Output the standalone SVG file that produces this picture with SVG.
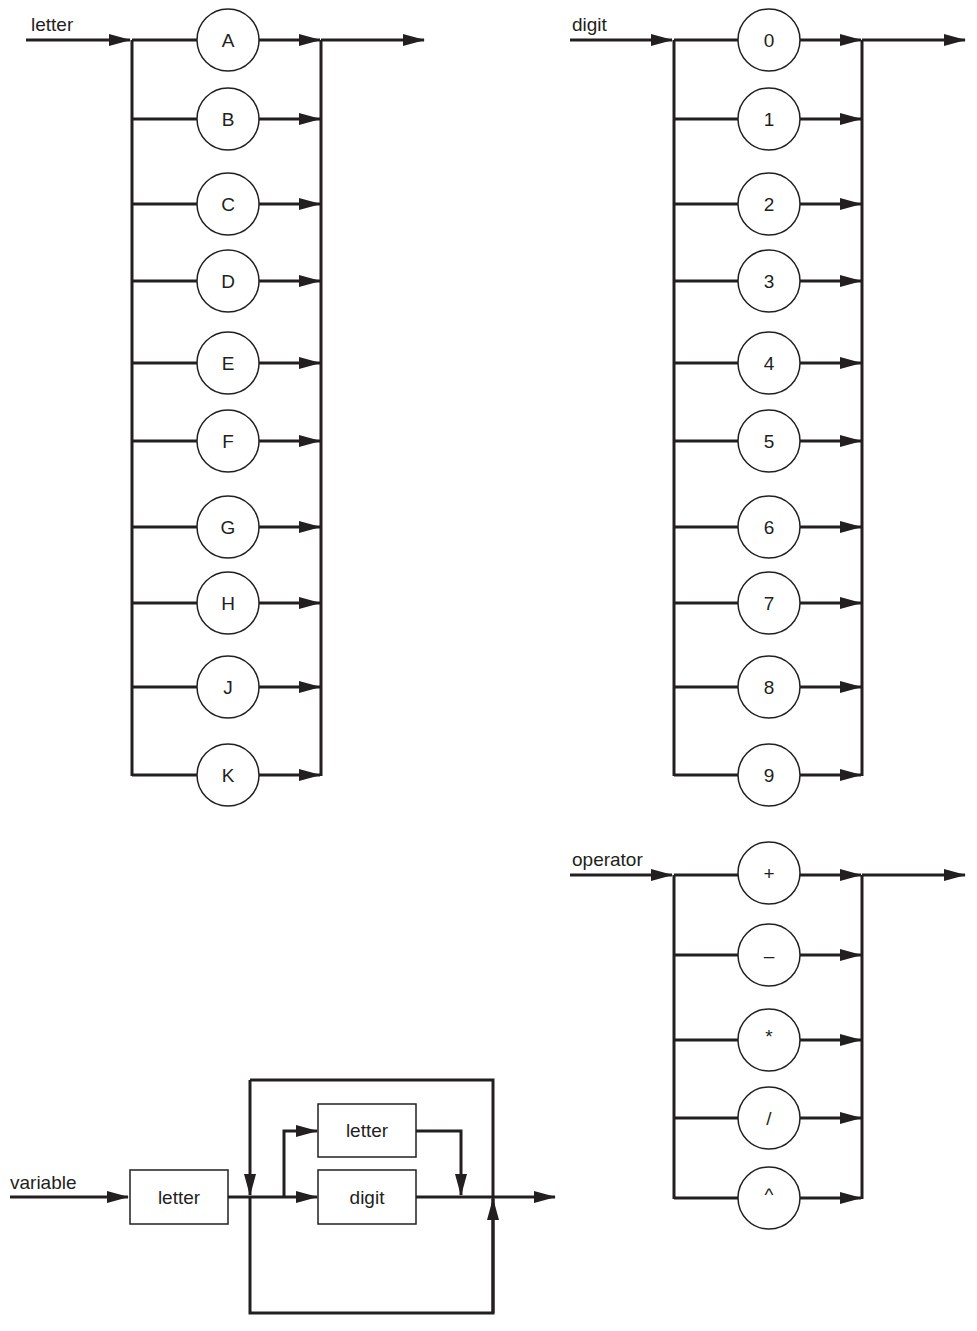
<svg xmlns="http://www.w3.org/2000/svg" width="977" height="1331" viewBox="0 0 977 1331">
<style>
.c{stroke:#231f20;stroke-width:3;fill:none}
.a{stroke:#231f20;stroke-width:3;fill:none;marker-end:url(#ah)}
.n circle,.n rect{fill:#fff;stroke:#231f20;stroke-width:1.5}
text{font-family:"Liberation Sans",Arial,sans-serif;font-size:19px;fill:#231f20}
.m{text-anchor:middle;dominant-baseline:central}
</style>
<defs><marker id="ah" markerUnits="userSpaceOnUse" markerWidth="22" markerHeight="12" refX="21" refY="6" orient="auto"><path d="M0,0 L22,6 L0,12 Z" fill="#231f20"/></marker></defs>
<rect width="977" height="1331" style="fill:#fff;stroke:none"/>
<g id="connectors">
<line class="a" x1="26" y1="40" x2="130" y2="40"/>
<path class="c" d="M132,40 V776 M321,40 V776"/>
<line class="a" x1="321" y1="40" x2="424" y2="40"/>
<path class="c" d="M132,40H197M132,119H197M132,204H197M132,281H197M132,363H197M132,441H197M132,527H197M132,603H197M132,687H197M132,775H197"/>
<line class="a" x1="259" y1="40" x2="320" y2="40"/><line class="a" x1="259" y1="119" x2="320" y2="119"/><line class="a" x1="259" y1="204" x2="320" y2="204"/><line class="a" x1="259" y1="281" x2="320" y2="281"/><line class="a" x1="259" y1="363" x2="320" y2="363"/><line class="a" x1="259" y1="441" x2="320" y2="441"/><line class="a" x1="259" y1="527" x2="320" y2="527"/><line class="a" x1="259" y1="603" x2="320" y2="603"/><line class="a" x1="259" y1="687" x2="320" y2="687"/><line class="a" x1="259" y1="775" x2="320" y2="775"/>
<line class="a" x1="570" y1="40" x2="672" y2="40"/>
<path class="c" d="M674,40 V776 M862,40 V776"/>
<line class="a" x1="862" y1="40" x2="965" y2="40"/>
<path class="c" d="M674,40H738M674,119H738M674,204H738M674,281H738M674,363H738M674,441H738M674,527H738M674,603H738M674,687H738M674,775H738"/>
<line class="a" x1="800" y1="40" x2="861" y2="40"/><line class="a" x1="800" y1="119" x2="861" y2="119"/><line class="a" x1="800" y1="204" x2="861" y2="204"/><line class="a" x1="800" y1="281" x2="861" y2="281"/><line class="a" x1="800" y1="363" x2="861" y2="363"/><line class="a" x1="800" y1="441" x2="861" y2="441"/><line class="a" x1="800" y1="527" x2="861" y2="527"/><line class="a" x1="800" y1="603" x2="861" y2="603"/><line class="a" x1="800" y1="687" x2="861" y2="687"/><line class="a" x1="800" y1="775" x2="861" y2="775"/>
<line class="a" x1="570" y1="875" x2="672" y2="875"/>
<path class="c" d="M674,875 V1199 M862,875 V1199"/>
<line class="a" x1="862" y1="875" x2="965" y2="875"/>
<path class="c" d="M674,875H738M674,955H738M674,1040H738M674,1118H738M674,1198H738"/>
<line class="a" x1="800" y1="875" x2="861" y2="875"/><line class="a" x1="800" y1="955" x2="861" y2="955"/><line class="a" x1="800" y1="1040" x2="861" y2="1040"/><line class="a" x1="800" y1="1118" x2="861" y2="1118"/><line class="a" x1="800" y1="1198" x2="861" y2="1198"/>
<line class="a" x1="10" y1="1197" x2="128" y2="1197"/>
<line class="c" x1="228" y1="1197" x2="284" y2="1197"/>
<line class="a" x1="284" y1="1197" x2="317" y2="1197"/>
<path class="a" d="M284,1197 V1131 H317"/>
<path class="a" d="M416,1131 H461 V1195"/>
<line class="a" x1="416" y1="1197" x2="555" y2="1197"/>
<path class="c" d="M250,1197 V1313 H493 V1197"/>
<line class="a" x1="493" y1="1313" x2="493" y2="1199"/>
<path class="c" d="M493,1197 V1080 H250"/>
<line class="a" x1="250" y1="1080" x2="250" y2="1195"/>
</g>
<g id="letter-label"><text x="31" y="31">letter</text></g>
<g id="digit-label"><text x="572" y="31">digit</text></g>
<g id="operator-label"><text x="572" y="866">operator</text></g>
<g id="variable-label"><text x="10" y="1189">variable</text></g>
<g class="n">
<g id="lA"><circle cx="228" cy="40" r="31"/><text class="m" x="228" y="40">A</text></g>
<g id="lB"><circle cx="228" cy="119" r="31"/><text class="m" x="228" y="119">B</text></g>
<g id="lC"><circle cx="228" cy="204" r="31"/><text class="m" x="228" y="204">C</text></g>
<g id="lD"><circle cx="228" cy="281" r="31"/><text class="m" x="228" y="281">D</text></g>
<g id="lE"><circle cx="228" cy="363" r="31"/><text class="m" x="228" y="363">E</text></g>
<g id="lF"><circle cx="228" cy="441" r="31"/><text class="m" x="228" y="441">F</text></g>
<g id="lG"><circle cx="228" cy="527" r="31"/><text class="m" x="228" y="527">G</text></g>
<g id="lH"><circle cx="228" cy="603" r="31"/><text class="m" x="228" y="603">H</text></g>
<g id="lJ"><circle cx="228" cy="687" r="31"/><text class="m" x="228" y="687">J</text></g>
<g id="lK"><circle cx="228" cy="775" r="31"/><text class="m" x="228" y="775">K</text></g>
<g id="d0"><circle cx="769" cy="40" r="31"/><text class="m" x="769" y="40">0</text></g>
<g id="d1"><circle cx="769" cy="119" r="31"/><text class="m" x="769" y="119">1</text></g>
<g id="d2"><circle cx="769" cy="204" r="31"/><text class="m" x="769" y="204">2</text></g>
<g id="d3"><circle cx="769" cy="281" r="31"/><text class="m" x="769" y="281">3</text></g>
<g id="d4"><circle cx="769" cy="363" r="31"/><text class="m" x="769" y="363">4</text></g>
<g id="d5"><circle cx="769" cy="441" r="31"/><text class="m" x="769" y="441">5</text></g>
<g id="d6"><circle cx="769" cy="527" r="31"/><text class="m" x="769" y="527">6</text></g>
<g id="d7"><circle cx="769" cy="603" r="31"/><text class="m" x="769" y="603">7</text></g>
<g id="d8"><circle cx="769" cy="687" r="31"/><text class="m" x="769" y="687">8</text></g>
<g id="d9"><circle cx="769" cy="775" r="31"/><text class="m" x="769" y="775">9</text></g>
<g id="oplus"><circle cx="769" cy="873" r="31"/><text class="m" x="769" y="873">+</text></g>
<g id="ominus"><circle cx="769" cy="955" r="31"/><text class="m" x="769" y="955">–</text></g>
<g id="ostar"><circle cx="769" cy="1040" r="31"/><text class="m" x="769" y="1036">*</text></g>
<g id="oslash"><circle cx="769" cy="1118" r="31"/><text class="m" x="769" y="1118">/</text></g>
<g id="ocaret"><circle cx="769" cy="1198" r="31"/><text class="m" x="769" y="1194">^</text></g>
<g id="vletter"><rect x="130" y="1170" width="98" height="54"/><text class="m" x="179" y="1197">letter</text></g>
<g id="vletter2"><rect x="318" y="1104" width="98" height="53"/><text class="m" x="367" y="1130">letter</text></g>
<g id="vdigit"><rect x="318" y="1170" width="98" height="54"/><text class="m" x="367" y="1197">digit</text></g>
</g>
</svg>
